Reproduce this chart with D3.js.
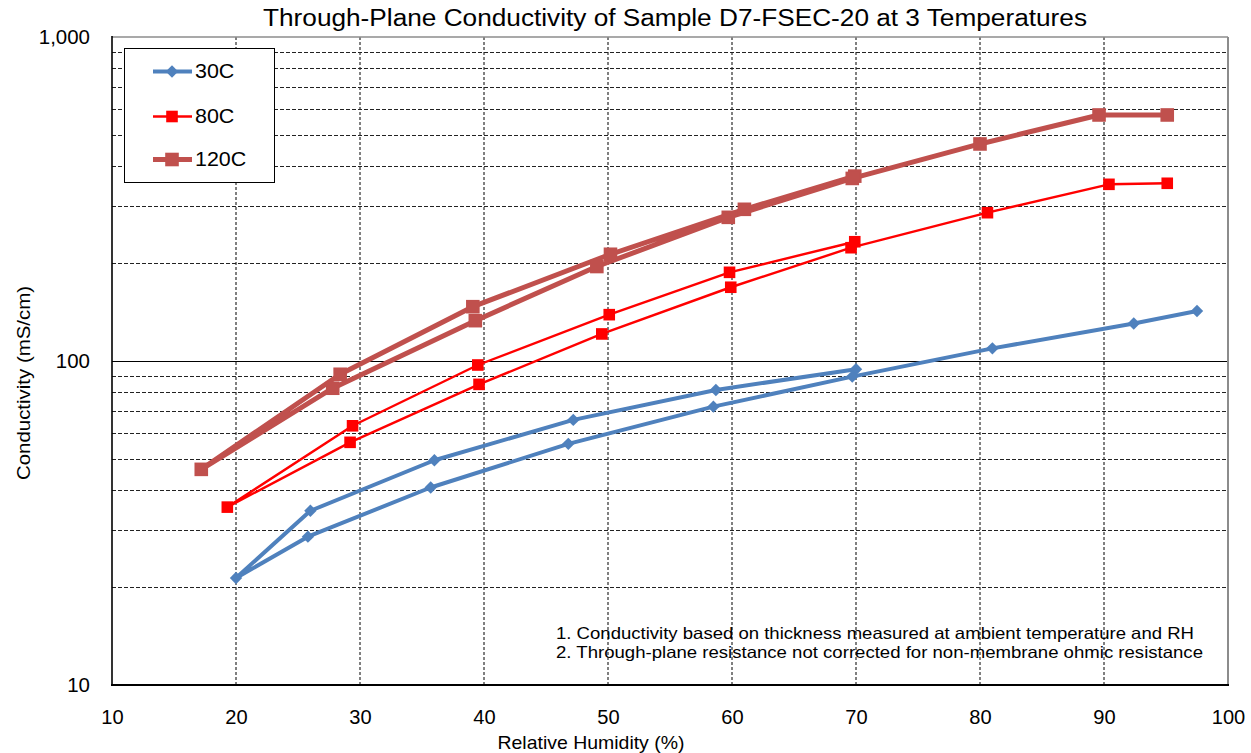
<!DOCTYPE html>
<html>
<head>
<meta charset="utf-8">
<script src="https://cdn.jsdelivr.net/npm/d3@7"></script>
<style>
  body { margin: 0; background: #fff; }
  svg { display: block; }
  text { font-family: "Liberation Sans", Arial, sans-serif; fill: #000; }
</style>
</head>
<body>
<svg id="chart" width="1251" height="753"></svg>
<script>
// Relative humidity steps (%) and through-plane conductivity (mS/cm):
// each run steps down from 70% RH to the driest point, then back up to ~95%.
const rh30   = [70.0, 58.7, 47.2, 36.0, 26.0, 20.0, 25.8, 35.7, 46.8, 58.5, 69.7, 81.0, 92.4, 97.5];
const cond30 = [94.3, 81.4, 65.8, 49.4, 34.5, 21.4, 28.7, 40.7, 55.5, 72.3, 89.5, 109.4, 130.6, 142.6];

const rh80   = [69.9, 59.8, 50.1, 39.5, 29.4, 19.3, 29.2, 39.6, 49.5, 59.9, 69.6, 80.6, 90.4, 95.1];
const cond80 = [233.4, 187.8, 139.0, 97.2, 63.1, 35.4, 56.1, 84.7, 121.2, 168.9, 223.7, 286.9, 351.0, 353.6];

const rh120   = [69.9, 61.0, 50.2, 39.1, 28.4, 17.2, 27.8, 39.3, 49.1, 59.7, 69.7, 80.0, 89.6, 95.1];
const cond120 = [372.0, 293.9, 213.5, 147.1, 91.0, 46.3, 82.4, 133.2, 195.7, 277.6, 366.0, 467.6, 574.6, 574.6];

const seriesNames = ["30C", "80C", "120C"];
const xTicks = [10, 20, 30, 40, 50, 60, 70, 80, 90, 100];
const yTicks = [10, 100, 1000];
const yMinor = [20, 30, 40, 50, 60, 70, 80, 90, 200, 300, 400, 500, 600, 700, 800, 900];

const titleText = "Through-Plane Conductivity of Sample D7-FSEC-20 at 3 Temperatures";
const xTitle = "Relative Humidity (%)";
const yTitle = "Conductivity (mS/cm)";
const notes = [
  "1. Conductivity based on thickness measured at ambient temperature and RH",
  "2. Through-plane resistance not corrected for non-membrane ohmic resistance"
];

const svg = d3.select("#chart");
const plot = { left: 112, right: 1228, top: 37, bottom: 685 };

const x = d3.scaleLinear().domain([10, 100]).range([plot.left, plot.right]);
const y = d3.scaleLog().domain([10, 1000]).range([plot.bottom, plot.top]);

const styles = {
  "30C":  { color: "#4F81BD", width: 4,   marker: "diamond", size: 6.2 },
  "80C":  { color: "#FF0000", width: 2.4, marker: "square",  size: 5.8 },
  "120C": { color: "#C0504D", width: 5,   marker: "square",  size: 6.8 }
};

const series = [
  { name: "30C",  rh: rh30,  cond: cond30 },
  { name: "80C",  rh: rh80,  cond: cond80 },
  { name: "120C", rh: rh120, cond: cond120 }
];

// scale a label's advance width by k
function stretch(sel, k) {
  sel.each(function () {
    const w = this.getComputedTextLength();
    d3.select(this).attr("textLength", w * k).attr("lengthAdjust", "spacingAndGlyphs");
  });
}

// ---- gridlines ----
const grid = svg.append("g");
grid.selectAll("line.vg").data(xTicks.slice(1, -1)).join("line")
  .attr("class", "vg")
  .attr("x1", d => x(d)).attr("x2", d => x(d))
  .attr("y1", plot.top).attr("y2", plot.bottom)
  .attr("stroke", "#000").attr("stroke-width", 1).attr("stroke-dasharray", "3,2");
grid.selectAll("line.hg").data(yMinor).join("line")
  .attr("class", "hg")
  .attr("x1", plot.left).attr("x2", plot.right)
  .attr("y1", d => Math.round(y(d)) + 0.5).attr("y2", d => Math.round(y(d)) + 0.5)
  .attr("stroke", "#222").attr("stroke-width", 1).attr("stroke-dasharray", "4,2");
grid.append("line")
  .attr("x1", plot.left).attr("x2", plot.right)
  .attr("y1", Math.round(y(100)) + 0.5).attr("y2", Math.round(y(100)) + 0.5)
  .attr("stroke", "#000").attr("stroke-width", 1.2);

// ---- frame ----
svg.append("line").attr("x1", plot.left).attr("x2", plot.right)
  .attr("y1", plot.top).attr("y2", plot.top).attr("stroke", "#8c8c8c").attr("stroke-width", 1.5);
svg.append("line").attr("x1", plot.right).attr("x2", plot.right)
  .attr("y1", plot.top).attr("y2", plot.bottom).attr("stroke", "#8c8c8c").attr("stroke-width", 2);
svg.append("line").attr("x1", plot.left).attr("x2", plot.left)
  .attr("y1", plot.top - 1).attr("y2", plot.bottom).attr("stroke", "#000").attr("stroke-width", 1.6);
svg.append("line").attr("x1", plot.left - 1).attr("x2", plot.right + 1)
  .attr("y1", plot.bottom).attr("y2", plot.bottom).attr("stroke", "#000").attr("stroke-width", 2);

// ---- axes (labels only) ----
const xAxis = svg.append("g").attr("transform", `translate(0,${plot.bottom})`)
  .call(d3.axisBottom(x).tickValues(xTicks).tickSize(0).tickPadding(25).tickFormat(d3.format("d")));
xAxis.select(".domain").remove();
xAxis.selectAll("text").attr("font-size", 19.5).style("font-family", "'Liberation Sans', Arial, sans-serif");
stretch(xAxis.selectAll("text"), 1.03);

const yAxis = svg.append("g").attr("transform", `translate(${plot.left},0)`)
  .call(d3.axisLeft(y).tickValues(yTicks).tickSize(0).tickPadding(22).tickFormat(d3.format(",")));
yAxis.select(".domain").remove();
yAxis.selectAll("text").attr("font-size", 19.5).style("font-family", "'Liberation Sans', Arial, sans-serif");
stretch(yAxis.selectAll("text"), 1.05);

// ---- series ----
const line = d3.line().x(d => x(d[0])).y(d => y(d[1]));

function markerPath(kind, s) {
  if (kind === "diamond") return `M0,${-s}L${s},0L0,${s}L${-s},0Z`;
  return `M${-s},${-s}H${s}V${s}H${-s}Z`;
}

series.forEach(sr => {
  const st = styles[sr.name];
  const pts = sr.rh.map((r, i) => [r, sr.cond[i]]);
  const g = svg.append("g");
  g.append("path").datum(pts)
    .attr("d", line).attr("fill", "none")
    .attr("stroke", st.color).attr("stroke-width", st.width)
    .attr("stroke-linejoin", "round");
  g.selectAll("path.m").data(pts).join("path")
    .attr("class", "m")
    .attr("transform", d => `translate(${x(d[0])},${y(d[1])})`)
    .attr("d", markerPath(st.marker, st.size))
    .attr("fill", st.color);
});

// ---- legend ----
const legend = svg.append("g");
legend.append("rect").attr("x", 124.5).attr("y", 48.5).attr("width", 150).attr("height", 134)
  .attr("fill", "#fff").attr("stroke", "#000").attr("stroke-width", 1);
const legY = [71.5, 116.5, 159.5];
seriesNames.forEach((name, i) => {
  const st = styles[name];
  const gy = legY[i];
  legend.append("line").attr("x1", 153).attr("x2", 192).attr("y1", gy).attr("y2", gy)
    .attr("stroke", st.color).attr("stroke-width", st.width);
  legend.append("path").attr("transform", `translate(172,${gy})`)
    .attr("d", markerPath(st.marker, st.size)).attr("fill", st.color);
  const t = legend.append("text").attr("x", 195).attr("y", gy).attr("dy", "0.35em")
    .attr("font-size", 19.5).text(name);
  stretch(t, 1.1);
});

// ---- titles ----
svg.append("text").attr("x", 675).attr("y", 26).attr("text-anchor", "middle")
  .attr("font-size", 23).attr("textLength", 824).attr("lengthAdjust", "spacingAndGlyphs")
  .text(titleText);

svg.append("text").attr("x", 591).attr("y", 749).attr("text-anchor", "middle")
  .attr("font-size", 19).attr("textLength", 187).attr("lengthAdjust", "spacingAndGlyphs")
  .text(xTitle);

svg.append("text").attr("transform", "translate(30,383) rotate(-90)").attr("text-anchor", "middle")
  .attr("font-size", 19).attr("textLength", 194).attr("lengthAdjust", "spacingAndGlyphs")
  .text(yTitle);

// ---- footnotes ----
const noteX = 556;
svg.append("text").attr("x", noteX).attr("y", 639).attr("font-size", 16.5)
  .attr("textLength", 638).attr("lengthAdjust", "spacingAndGlyphs").text(notes[0]);
svg.append("text").attr("x", noteX).attr("y", 658).attr("font-size", 16.5)
  .attr("textLength", 647).attr("lengthAdjust", "spacingAndGlyphs").text(notes[1]);
</script>
</body>
</html>
